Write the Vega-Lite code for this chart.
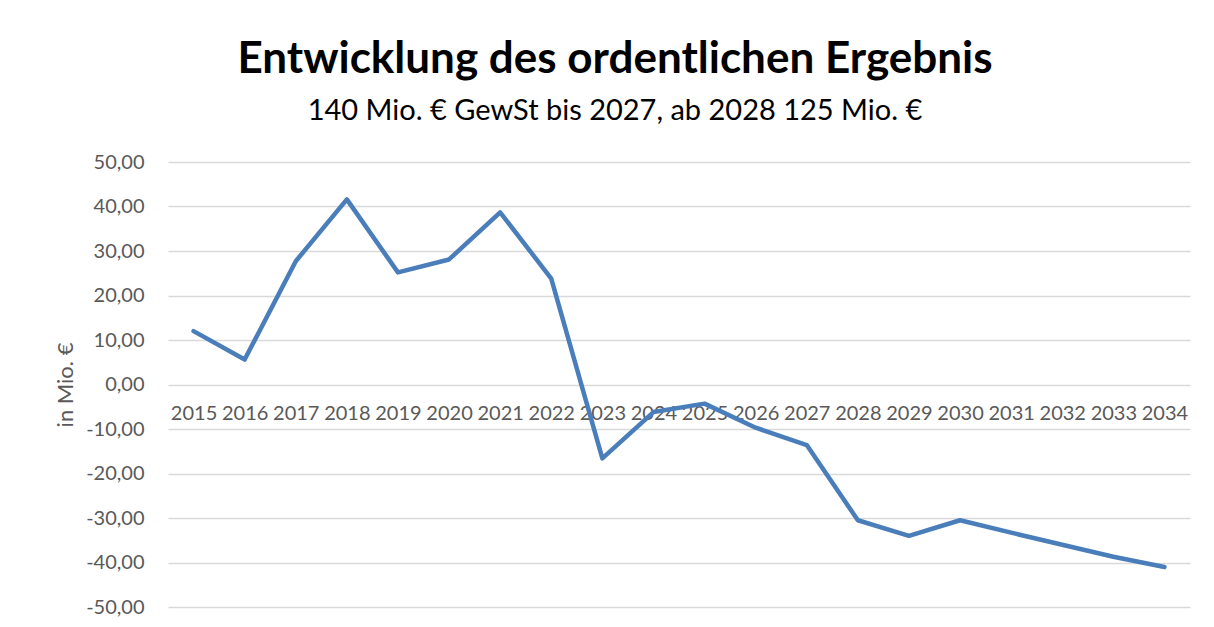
{
  "$schema": "https://vega.github.io/schema/vega-lite/v6.json",
  "width": 1022,
  "height": 445,
  "autosize": "none",
  "padding": {"left": 168, "top": 162, "right": 24, "bottom": 20},
  "background": "white",
  "config": {
    "locale": {"number": {"decimal": ",", "thousands": ".", "grouping": [3], "currency": ["", " €"], "minus": "-"}},
    "view": {"stroke": null},
    "font": "Lato"
  },
  "title": {
    "text": "Entwicklung des ordentlichen Ergebnis",
    "subtitle": "140 Mio. € GewSt bis 2027, ab 2028 125 Mio. €",
    "anchor": "middle",
    "frame": "group",
    "dx": -64,
    "offset": 26,
    "font": "Lato",
    "fontSize": 44,
    "fontWeight": "bold",
    "color": "#000000",
    "subtitleFont": "Lato",
    "subtitleFontSize": 29,
    "subtitleColor": "#000000",
    "subtitlePadding": 15
  },
  "data": {
    "values": [
      {"Jahr": "2015", "Wert": 12.0},
      {"Jahr": "2016", "Wert": 5.6},
      {"Jahr": "2017", "Wert": 27.7},
      {"Jahr": "2018", "Wert": 41.6},
      {"Jahr": "2019", "Wert": 25.2},
      {"Jahr": "2020", "Wert": 28.1},
      {"Jahr": "2021", "Wert": 38.7},
      {"Jahr": "2022", "Wert": 23.8},
      {"Jahr": "2023", "Wert": -16.6},
      {"Jahr": "2024", "Wert": -6.2},
      {"Jahr": "2025", "Wert": -4.3},
      {"Jahr": "2026", "Wert": -9.7},
      {"Jahr": "2027", "Wert": -13.6},
      {"Jahr": "2028", "Wert": -30.5},
      {"Jahr": "2029", "Wert": -34.0},
      {"Jahr": "2030", "Wert": -30.5},
      {"Jahr": "2031", "Wert": -33.3},
      {"Jahr": "2032", "Wert": -36.0},
      {"Jahr": "2033", "Wert": -38.7},
      {"Jahr": "2034", "Wert": -41.0}
    ]
  },
  "mark": {"type": "line", "color": "#4a7ebb", "strokeWidth": 4.5, "strokeCap": "round", "strokeJoin": "round"},
  "encoding": {
    "x": {
      "field": "Jahr",
      "type": "ordinal",
      "title": null,
      "scale": {"type": "point", "padding": 0.5},
      "axis": {
        "offset": -222,
        "labelAngle": 0,
        "ticks": false,
        "domain": false,
        "grid": false,
        "labelFont": "Lato",
        "labelFontSize": 20,
        "labelColor": "#595959",
        "labelPadding": 18,
        "labelBaseline": "top"
      }
    },
    "y": {
      "field": "Wert",
      "type": "quantitative",
      "title": "in Mio. €",
      "scale": {"domain": [-50, 50], "nice": false, "zero": false},
      "axis": {
        "values": [-50, -40, -30, -20, -10, 0, 10, 20, 30, 40, 50],
        "format": ".2f",
        "domain": false,
        "ticks": false,
        "grid": true,
        "gridColor": "#d9d9d9",
        "gridWidth": 1.5,
        "labelFont": "Lato",
        "labelFontSize": 20,
        "labelColor": "#595959",
        "labelPadding": 24,
        "titleFont": "Lato",
        "titleFontSize": 22,
        "titleFontWeight": "normal",
        "titleColor": "#595959",
        "titlePadding": 8
      }
    }
  }
}
